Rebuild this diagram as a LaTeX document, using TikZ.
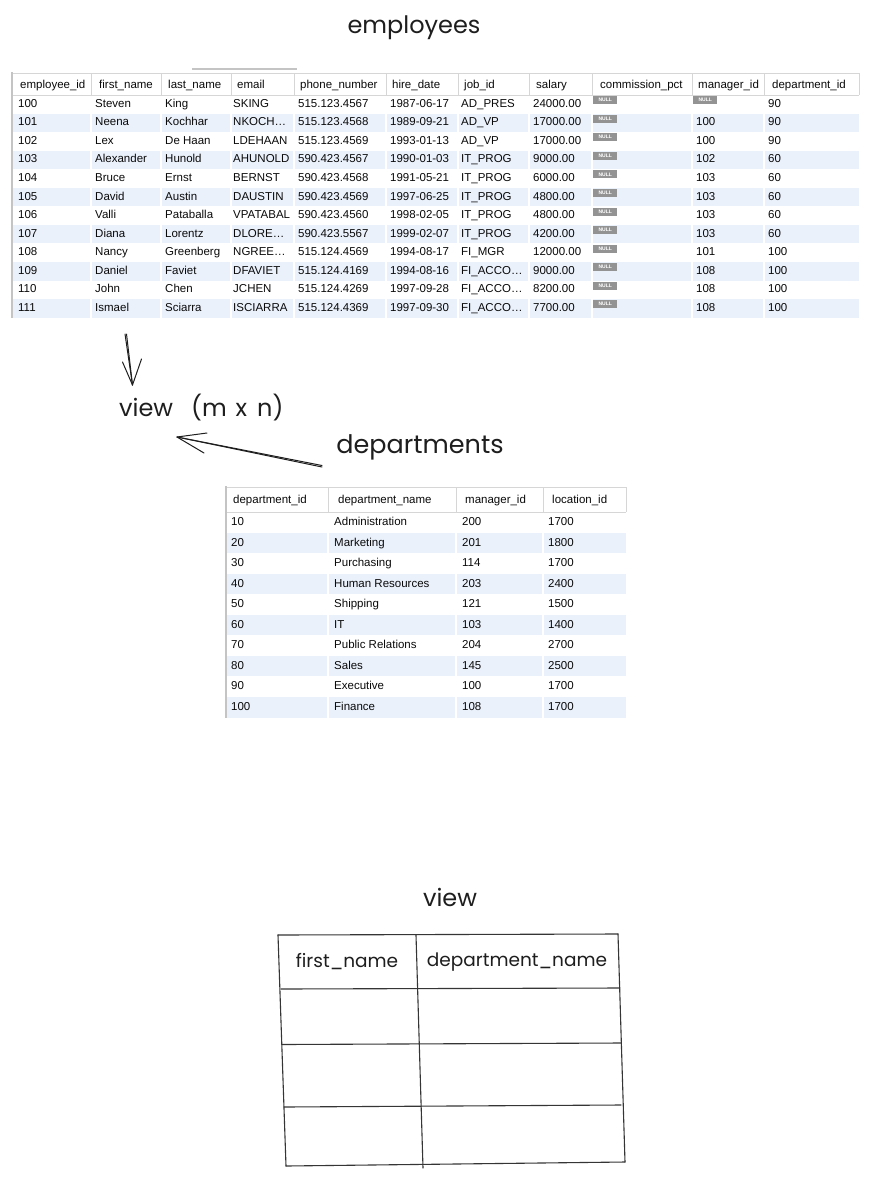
\documentclass[tikz,border=0pt]{standalone}
\usepackage{fontspec}
\setmainfont{Liberation Sans}
\newfontfamily\tabfont{Liberation Sans}
\newfontfamily\handfont{Poppins}
\definecolor{stripe}{HTML}{EAF1FB}
\definecolor{gridgray}{HTML}{D6D6D6}
\definecolor{bordergray}{HTML}{C4C4C4}
\definecolor{nullgray}{HTML}{939393}
\definecolor{ink}{HTML}{1E1E1E}
\definecolor{celltext}{HTML}{0A0A0A}
\tikzset{
  cell/.style={anchor=west, inner sep=0pt, text height=8.5pt, text depth=2.5pt,
    text=celltext, font=\tabfont\fontsize{11.5}{13}\selectfont},
  nullbadge/.style={fill=nullgray, anchor=north west, minimum width=24pt, minimum height=8pt,
    inner sep=0pt, text=white, font=\tabfont\bfseries\fontsize{5}{5}\selectfont},
  hand/.style={inner sep=0pt, text=ink, font=\handfont\fontsize{24}{28}\selectfont},
  handsmall/.style={inner sep=0pt, text=ink, font=\handfont\fontsize{18.5}{22}\selectfont},
  sketch/.style={draw=ink, line width=1pt, line cap=round, line join=round},
  pen/.style={draw=ink!90, line width=1.1pt, line cap=round},
  colsep/.style={draw=white, line width=1.6pt},
  hdrsep/.style={draw=gridgray, line width=0.8pt},
}
\begin{document}
\begin{tikzpicture}[x=1pt,y=-1pt]
\useasboundingbox[fill=white] (0,0) rectangle (872,1178);

% ---------------- employees ----------------
\node[hand] (empTitle) at (414,28) {employees};
\draw[draw=bordergray, line width=1.5pt] (192,69) -- (297,69);

% striped rows
\foreach \i in {1,3,...,11}
  \fill[stripe] (13,{95+18.55*\i}) rectangle (859,{95+18.55*(\i+1)});
% header frame
\draw[hdrsep] (12,73) -- (859,73);
\draw[hdrsep] (12,95) -- (859,95);
\foreach \x in {91,161,231,294,386,458,529,592,692,764,859}
  \draw[hdrsep] (\x,73) -- (\x,95);
\foreach \x in {91,161,231,294,386,458,529,592,692,764}
  \draw[colsep] (\x,96) -- (\x,318);
\draw[draw=bordergray, line width=1.5pt] (12,72) -- (12,318);

% header labels
\foreach \t/\x [count=\c] in {employee\_id/20, first\_name/99, last\_name/168, email/237,
    phone\_number/300, hire\_date/392, job\_id/464, salary/536, commission\_pct/600,
    manager\_id/698, department\_id/772}
  \node[cell] (eh\c) at (\x,85) {\t};

% rows
\foreach \vA/\vB/\vC/\vD/\vE/\vF/\vG/\vH/\vI/\vJ [count=\i from 0] in {
  100/Steven/King/SKING/515.123.4567/1987-06-17/AD\_PRES/24000.00/{}/90,
  101/Neena/Kochhar/NKOCH…/515.123.4568/1989-09-21/AD\_VP/17000.00/100/90,
  102/Lex/De Haan/LDEHAAN/515.123.4569/1993-01-13/AD\_VP/17000.00/100/90,
  103/Alexander/Hunold/AHUNOLD/590.423.4567/1990-01-03/IT\_PROG/9000.00/102/60,
  104/Bruce/Ernst/BERNST/590.423.4568/1991-05-21/IT\_PROG/6000.00/103/60,
  105/David/Austin/DAUSTIN/590.423.4569/1997-06-25/IT\_PROG/4800.00/103/60,
  106/Valli/Pataballa/VPATABAL/590.423.4560/1998-02-05/IT\_PROG/4800.00/103/60,
  107/Diana/Lorentz/DLORE…/590.423.5567/1999-02-07/IT\_PROG/4200.00/103/60,
  108/Nancy/Greenberg/NGREE…/515.124.4569/1994-08-17/FI\_MGR/12000.00/101/100,
  109/Daniel/Faviet/DFAVIET/515.124.4169/1994-08-16/FI\_ACCO…/9000.00/108/100,
  110/John/Chen/JCHEN/515.124.4269/1997-09-28/FI\_ACCO…/8200.00/108/100,
  111/Ismael/Sciarra/ISCIARRA/515.124.4369/1997-09-30/FI\_ACCO…/7700.00/108/100}
{
  \pgfmathsetmacro{\yc}{104.3+18.55*\i}
  \pgfmathsetmacro{\yt}{96+18.55*\i}
  \node[cell] (e\i-1) at (18,\yc) {\vA};
  \node[cell] (e\i-2) at (95,\yc) {\vB};
  \node[cell] (e\i-3) at (165,\yc) {\vC};
  \node[cell] (e\i-4) at (233,\yc) {\vD};
  \node[cell] (e\i-5) at (298,\yc) {\vE};
  \node[cell] (e\i-6) at (390,\yc) {\vF};
  \node[cell] (e\i-7) at (461,\yc) {\vG};
  \node[cell] (e\i-8) at (533,\yc) {\vH};
  \node[nullbadge] (e\i-9) at (593,\yt) {NULL};
  \node[cell] (e\i-10) at (696,\yc) {\vI};
  \node[cell] (e\i-11) at (768,\yc) {\vJ};
}
\node[nullbadge] (e0-mgr) at (693,96) {NULL};

% ---------------- departments ----------------
\node[hand, font=\handfont\fontsize{25.5}{30}\selectfont] (depTitle) at (420,447) {departments};

\foreach \i in {1,3,...,9}
  \fill[stripe] (227,{512+20.55*\i}) rectangle (626,{512+20.55*(\i+1)});
\draw[hdrsep] (226,487) -- (626,487);
\draw[hdrsep] (226,512) -- (626,512);
\foreach \x in {328,456,543,626}
  \draw[hdrsep] (\x,487) -- (\x,512);
\foreach \x in {328,456,543}
  \draw[colsep] (\x,513) -- (\x,718);
\draw[draw=bordergray, line width=1.5pt] (226,486) -- (226,718);

\foreach \t/\x [count=\c] in {department\_id/233, department\_name/338, manager\_id/465, location\_id/552}
  \node[cell] (dh\c) at (\x,500) {\t};

\foreach \vA/\vB/\vC/\vD [count=\i from 0] in {
  10/Administration/200/1700,
  20/Marketing/201/1800,
  30/Purchasing/114/1700,
  40/Human Resources/203/2400,
  50/Shipping/121/1500,
  60/IT/103/1400,
  70/Public Relations/204/2700,
  80/Sales/145/2500,
  90/Executive/100/1700,
  100/Finance/108/1700}
{
  \pgfmathsetmacro{\yc}{522.5+20.55*\i}
  \node[cell] (d\i-1) at (231,\yc) {\vA};
  \node[cell] (d\i-2) at (334,\yc) {\vB};
  \node[cell] (d\i-3) at (462,\yc) {\vC};
  \node[cell] (d\i-4) at (548,\yc) {\vD};
}

% ---------------- view (m x n) ----------------
\node[hand, anchor=west] (viewMN) at (119,408)
  {view\hspace{18pt}(m\hspace{9pt}x\hspace{10pt}n)};

% sketchy arrow from the employees table down to the view
\coordinate (downFrom) at (125,334);
\coordinate (downTip) at (132.5,385);
\draw[sketch] (downFrom) -- (downTip);
\draw[sketch] ([shift={(1.5,0)}]downFrom) -- (downTip);
\draw[sketch] ([shift={(-10,-23)}]downTip) -- (downTip) -- ([shift={(9,-26)}]downTip);

% sketchy arrow from departments to the view
\coordinate (leftFrom) at (322,467);
\coordinate (leftTip) at (177,437);
\draw[sketch] (leftFrom) -- (leftTip);
\draw[sketch] ([shift={(0,-1.5)}]leftFrom) -- (leftTip);
\draw[sketch] ([shift={(30,-4)}]leftTip) -- (leftTip) -- ([shift={(27,16)}]leftTip);

% ---------------- resulting view ----------------
\node[hand] (viewTitle) at (450,897) {view};

\coordinate (vTL) at (278,935);
\coordinate (vTR) at (618,934);
\coordinate (vBL) at (286,1166);
\coordinate (vBR) at (625,1162);
\draw[pen] (vTL) -- (vTR);
\draw[pen] (vTL) -- (vBL);
\draw[pen] (vTR) -- (vBR);
\draw[pen] (vBL) -- (vBR);
\draw[pen] (416,935) -- (423,1168);
\draw[pen] (281,989) -- (620,988);
\draw[pen] (282,1044.5) -- (621,1043);
\draw[pen] (284,1107) -- (621,1105);

\node[handsmall] (vh1) at (347,962) {first\_name};
\node[handsmall] (vh2) at (517,962) {department\_name};
\end{tikzpicture}
\end{document}
